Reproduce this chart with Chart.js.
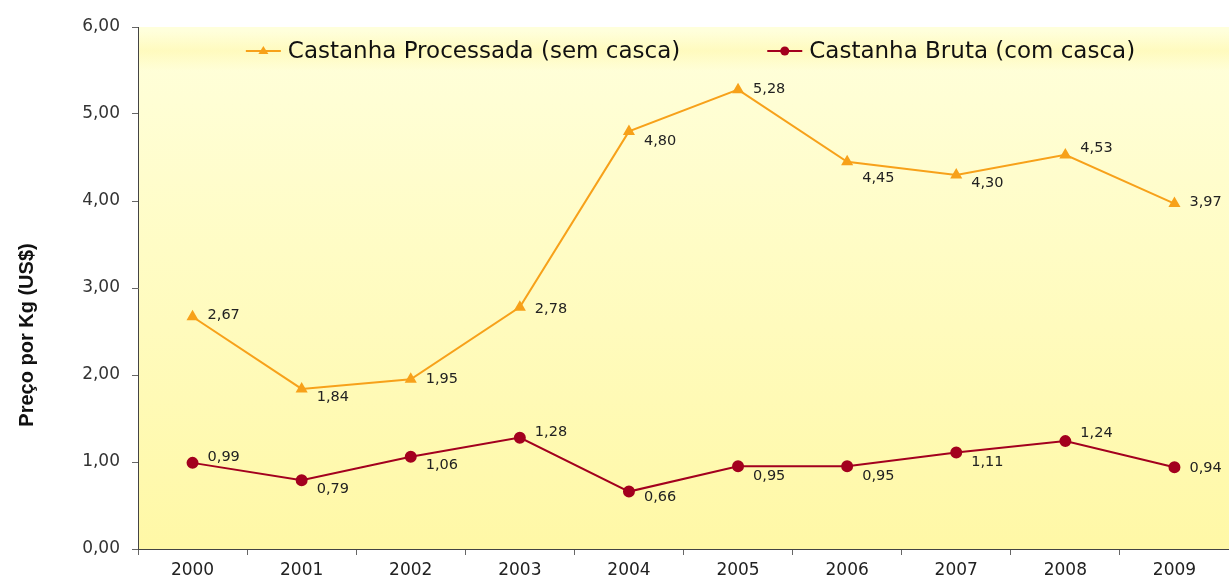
<!DOCTYPE html>
<html>
<head>
<meta charset="utf-8">
<script src="https://cdn.jsdelivr.net/npm/chart.js@4"></script>
<style>
  html, body { margin: 0; padding: 0; background: #fff; }
  #wrap { width: 1229px; height: 579px; }
</style>
</head>
<body>
<div id="wrap"><canvas id="chart" width="1229" height="579"></canvas></div>
<script>
const years = ['2000', '2001', '2002', '2003', '2004', '2005', '2006', '2007', '2008', '2009'];
const processada = [2.67, 1.84, 1.95, 2.78, 4.80, 5.28, 4.45, 4.30, 4.53, 3.97];
const bruta = [0.99, 0.79, 1.06, 1.28, 0.66, 0.95, 0.95, 1.11, 1.24, 0.94];
const yTitle = 'Preço por Kg (US$)';
// vertical nudge of each value label (px)
const procLabelDy = [-1, 8, 0, 2, 10, 0, 16, 8, -7, -1];
const brutaLabelDy = [-6, 9, 8, -5, 6, 10, 10, 10, -8, 1];

const orange = '#F7A11A';
const darkRed = '#A3001E';
const fontFam = '"DejaVu Sans", Verdana, sans-serif';
const fmt = v => v.toFixed(2).replace('.', ',');

const bgPlugin = {
    id: 'bg',
    beforeDraw(chart) {
        const a = chart.chartArea, ctx = chart.ctx;
        const grad = ctx.createLinearGradient(0, a.top, 0, a.bottom);
        grad.addColorStop(0, '#FFFFDC');
        grad.addColorStop(1, '#FFF8A6');
        ctx.save();
        ctx.fillStyle = grad;
        ctx.fillRect(a.left, a.top, a.right - a.left, a.bottom - a.top);
        const band = ctx.createLinearGradient(0, a.top + 4, 0, a.top + 44);
        band.addColorStop(0, 'rgba(255, 240, 120, 0)');
        band.addColorStop(0.5, 'rgba(255, 240, 120, 0.28)');
        band.addColorStop(1, 'rgba(255, 240, 120, 0)');
        ctx.fillStyle = band;
        ctx.fillRect(a.left, a.top + 4, a.right - a.left, 40);

        // axis title, placed a bit below the middle as in the original
        ctx.translate(27, 335);
        ctx.rotate(-Math.PI / 2);
        ctx.font = 'bold 20px "Liberation Sans", Arial, sans-serif';
        ctx.fillStyle = '#111';
        ctx.textAlign = 'center';
        ctx.textBaseline = 'middle';
        ctx.fillText(yTitle, 0, 0);
        ctx.restore();
    }
};

const labelPlugin = {
    id: 'valueLabels',
    afterDatasetsDraw(chart) {
        const ctx = chart.ctx;
        ctx.save();
        ctx.font = '14.5px ' + fontFam;
        ctx.fillStyle = '#222';
        ctx.textAlign = 'left';
        ctx.textBaseline = 'middle';
        const offsets = [procLabelDy, brutaLabelDy];
        chart.data.datasets.forEach((ds, i) => {
            chart.getDatasetMeta(i).data.forEach((pt, j) => {
                ctx.fillText(fmt(ds.data[j]), pt.x + 15, pt.y + offsets[i][j]);
            });
        });
        ctx.restore();
    }
};

// legend drawn inside the plot area, like the original
const legendPlugin = {
    id: 'innerLegend',
    afterDatasetsDraw(chart) {
        const ctx = chart.ctx, a = chart.chartArea;
        const ds = chart.data.datasets;
        ctx.save();
        ctx.font = '23px ' + fontFam;
        const iconW = 35, gap = 7, between = 87;
        const widths = ds.map(d => ctx.measureText(d.label).width);
        const total = widths.reduce((s, w) => s + iconW + gap + w, 0) + between;
        let x = (a.left + a.right) / 2 - total / 2 + 7;
        const y = a.top + 24;
        ds.forEach((d, i) => {
            ctx.strokeStyle = d.borderColor;
            ctx.fillStyle = d.borderColor;
            ctx.lineWidth = 2;
            ctx.beginPath(); ctx.moveTo(x, y); ctx.lineTo(x + iconW, y); ctx.stroke();
            const cx = x + iconW / 2;
            ctx.beginPath();
            if (d.pointStyle == 'triangle') {
                ctx.moveTo(cx, y - 5); ctx.lineTo(cx + 5, y + 3); ctx.lineTo(cx - 5, y + 3); ctx.closePath();
            } else {
                ctx.arc(cx, y, 4.5, 0, Math.PI * 2);
            }
            ctx.fill();
            ctx.fillStyle = '#111';
            ctx.textAlign = 'left';
            ctx.textBaseline = 'middle';
            ctx.fillText(d.label, x + iconW + gap, y + 1);
            x += iconW + gap + widths[i] + between;
        });
        ctx.restore();
    }
};

const ctx = document.getElementById('chart').getContext('2d');
new Chart(ctx, {
    type: 'line',
    data: {
        labels: years,
        datasets: [{
            label: 'Castanha Processada (sem casca)',
            data: processada,
            borderColor: orange,
            backgroundColor: orange,
            borderWidth: 2,
            pointStyle: 'triangle',
            pointRadius: 5,
            tension: 0
        },
        {
            label: 'Castanha Bruta (com casca)',
            data: bruta,
            borderColor: darkRed,
            backgroundColor: darkRed,
            borderWidth: 2,
            pointStyle: 'circle',
            pointRadius: 5,
            tension: 0
        }]
    },
    options: {
        responsive: false,
        animation: false,
        layout: {
            autoPadding: false,
            padding: { top: 27, right: 0, bottom: 0, left: 0 }
        },
        plugins: {
            tooltip: { enabled: false },
            legend: { display: false }
        },
        scales: {
            x: {
                offset: true,
                afterFit(scale) {
                    scale.height = 30;
                    scale.paddingLeft = 0;
                    scale.paddingRight = 0;
                },
                grid: {
                    offset: true,
                    drawOnChartArea: false,
                    tickLength: 6,
                    color: '#666'
                },
                border: { color: '#444', width: 1 },
                ticks: {
                    color: '#222',
                    padding: 5,
                    maxRotation: 0,
                    font: { size: 17, family: fontFam }
                }
            },
            y: {
                min: 0,
                max: 6,
                afterFit(scale) { scale.width = 138; },
                grid: {
                    drawOnChartArea: false,
                    tickLength: 6,
                    color: '#666'
                },
                border: { color: '#444', width: 1 },
                ticks: {
                    stepSize: 1,
                    color: '#333',
                    padding: 12,
                    font: { size: 17, family: fontFam },
                    callback: v => fmt(v)
                }
            }
        }
    },
    plugins: [bgPlugin, labelPlugin, legendPlugin]
});
</script>
</body>
</html>
